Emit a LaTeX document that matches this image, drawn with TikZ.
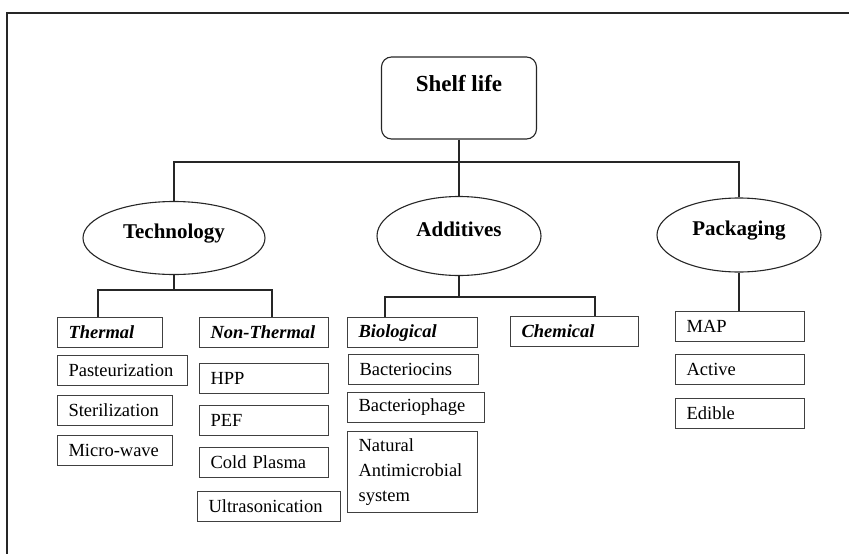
\documentclass[tikz,border=0pt]{standalone}
\usepackage{fontspec}
\setmainfont{Liberation Serif}
\usetikzlibrary{shapes.geometric,calc}
\tikzset{
  ln/.style={draw=black!85, line width=1.1pt},
  bx/.style={draw=black!75, line width=1.1pt, inner xsep=11pt, inner ysep=0pt,
    minimum height=30pt, align=left, anchor=north west,
    font=\fontsize{18.5}{25}\selectfont},
  hd/.style={bx, font=\fontsize{18.5}{25}\selectfont\bfseries\itshape},
  ell/.style={ellipse, draw=black!85, line width=1.1pt, inner sep=0pt,
    text depth=14pt, font=\fontsize{21}{24}\selectfont\bfseries},
}
\begin{document}
\begin{tikzpicture}[x=1pt,y=-1pt]
\useasboundingbox (0,0) rectangle (849,554);
% frame
\draw[ln] (7,554) -- (7,13) -- (849,13);
% top
\node[draw=black!85, line width=1.1pt, rounded corners=10pt, minimum width=155pt, minimum height=82pt,
  text depth=30pt, font=\fontsize{23}{25}\selectfont\bfseries] (shelf) at (459,98) {Shelf life};
\node[ell, minimum width=182pt, minimum height=73pt] (tech) at (174,238) {Technology};
\node[ell, minimum width=164pt, minimum height=79pt] (add) at (459,236) {Additives};
\node[ell, minimum width=164pt, minimum height=74pt] (pack) at (739,235) {Packaging};
\coordinate (bus) at (459,162);
\draw[ln] (shelf.south) -- (add.north);
\draw[ln] (tech.north) |- (bus) -| (pack.north);
% level 2 boxes
\node[hd, text width=83pt] (thermal) at (57,317) {Thermal};
\node[hd, text width=107pt] (nonthermal) at (199,317) {Non-Thermal};
\node[hd, text width=108pt] (bio) at (347,317) {Biological};
\node[hd, text width=106pt] (chem) at (510,316) {Chemical};
\node[bx, text width=107pt] (map) at (675,311) {MAP};
\node[bx, text width=107pt] (active) at (675,354) {Active};
\node[bx, text width=107pt] (edible) at (675,398) {Edible};
% technology leaves
\node[bx, text width=108pt] (past) at (57,355) {Pasteurization};
\node[bx, text width=93pt] (ster) at (57,395) {Sterilization};
\node[bx, text width=93pt] (micro) at (57,435) {Micro-wave};
\node[bx, text width=107pt] (hpp) at (199,363) {HPP};
\node[bx, text width=107pt] (pef) at (199,405) {PEF};
\node[bx, text width=107pt] (cold) at (199,447) {Cold Plasma};
\node[bx, text width=121pt] (ultra) at (197,491) {Ultrasonication};
% additives leaves
\node[bx, text width=108pt] (bcin) at (348,354) {Bacteriocins};
\node[bx, text width=115pt] (bphage) at (347,392) {Bacteriophage};
\node[bx, text width=108pt, minimum height=81pt] (nat) at (347,431) {Natural\\Antimicrobial\\system};
% connectors
\coordinate (tb) at (174,290);
\draw[ln] (tech.south) -- (tb);
\draw[ln] ($(thermal.north west)+(41,0)$) |- (tb) -| ($(nonthermal.north west)+(73,0)$);
\coordinate (ab) at (459,297);
\draw[ln] (add.south) -- (ab);
\draw[ln] ($(bio.north west)+(38,0)$) |- (ab) -| ($(chem.north west)+(85,0)$);
\draw[ln] (pack.south) -- (pack.south |- map.north);
\end{tikzpicture}
\end{document}
